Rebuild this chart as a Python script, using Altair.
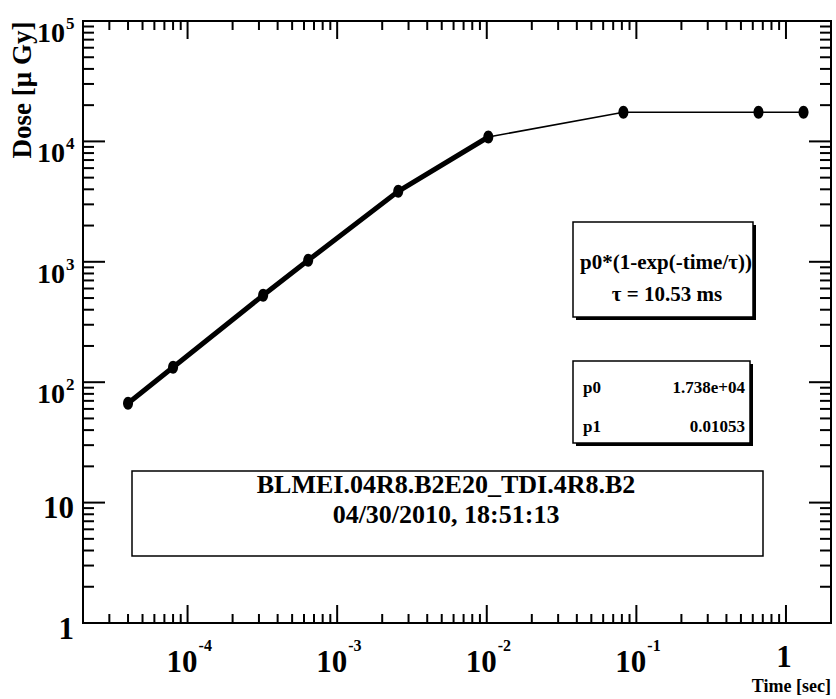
import altair as alt
import pandas as pd

FONT = "Liberation Serif"

# ---- data ----
time_s = [4e-5, 8e-5, 3.2e-4, 6.4e-4, 2.56e-3, 1.024e-2, 8.19e-2, 0.655, 1.31]
dose_uGy = [66.8, 133, 527, 1029, 3850, 10880, 17450, 17450, 17450]
fit_end = 1.1e-2  # fitted range (thick curve) ends at the 6th point

# ---- axes ----
X_DOMAIN = [2e-5, 2]
Y_DOMAIN = [1, 1e5]
y_decades = [1, 10, 100, 1000, 10000, 100000]
y_bases = ["1", "10", "10", "10", "10", "10"]
y_exps = ["", "", "2", "3", "4", "5"]
x_decades = [1e-4, 1e-3, 1e-2, 1e-1, 1]
x_bases = ["10", "10", "10", "10", "1"]
x_exps = ["-4", "-3", "-2", "-1", ""]
x_all_decades = [1e-5, 1e-4, 1e-3, 1e-2, 1e-1, 1]
minor_mult = [2, 3, 4, 5, 6, 7, 8, 9]

# ---- annotation texts ----
formula_txt = "p0*(1-exp(-time/τ))"
tau_txt = "τ = 10.53 ms"
par_names = ["p0", "p1"]
par_values = ["1.738e+04", "0.01053"]
title_lines = ["BLMEI.04R8.B2E20_TDI.4R8.B2", "04/30/2010, 18:51:13"]
x_title = "Time [sec]"
y_title = "Dose [μ Gy]"

W, H = 748, 602
xs = alt.Scale(type="log", domain=X_DOMAIN)
ys = alt.Scale(type="log", domain=Y_DOMAIN)
X = alt.X("t:Q", scale=xs, axis=None)
Y = alt.Y("dose:Q", scale=ys, axis=None)

df = pd.DataFrame({"t": time_s, "dose": dose_uGy})
one = pd.DataFrame({"k": [0]})

y_minor = [m * d for d in y_decades[:-1] for m in minor_mult]
x_minor = [m * d for d in x_all_decades for m in minor_mult
           if X_DOMAIN[0] * 1.001 < m * d < X_DOMAIN[1] * 0.999]

ymaj_df = pd.DataFrame({"dose": y_decades})
ymin_df = pd.DataFrame({"dose": y_minor})
xmaj_df = pd.DataFrame({"t": x_decades})
xmin_df = pd.DataFrame({"t": x_minor})

layers = []

def yticks(d, length):
    b = alt.Chart(d).mark_rule(color="black", strokeWidth=2)
    return [b.encode(y=Y, x=alt.value(0), x2=alt.value(length)),
            b.encode(y=Y, x=alt.value(W - length), x2=alt.value(W))]

def xticks(d, length):
    b = alt.Chart(d).mark_rule(color="black", strokeWidth=2)
    return [b.encode(x=X, y=alt.value(H - length), y2=alt.value(H)),
            b.encode(x=X, y=alt.value(0), y2=alt.value(length))]

layers += yticks(ymaj_df, 22) + yticks(ymin_df, 11)
layers += xticks(xmaj_df, 18) + xticks(xmin_df, 9)

# tick labels
ylab = pd.DataFrame({"dose": y_decades, "base": y_bases, "exp": y_exps})
txt = dict(font=FONT, fontWeight="bold", color="black", baseline="alphabetic")
layers.append(alt.Chart(ylab).transform_filter("datum.exp == ''")
              .mark_text(fontSize=31, align="right", dy=15.5, **txt)
              .encode(y=Y, x=alt.value(-9), text="base:N"))
layers.append(alt.Chart(ylab).transform_filter("datum.exp != ''")
              .mark_text(fontSize=28, align="right", dy=21, **txt)
              .encode(y=Y, x=alt.value(-18), text="base:N"))
layers.append(alt.Chart(ylab).transform_filter("datum.exp != ''")
              .mark_text(fontSize=17, align="left", dy=8, **txt)
              .encode(y=Y, x=alt.value(-17), text="exp:N"))

xlab = pd.DataFrame({"t": x_decades, "base": x_bases, "exp": x_exps})
layers.append(alt.Chart(xlab).transform_filter("datum.exp == ''")
              .mark_text(fontSize=31, align="center", dx=-2, **txt)
              .encode(x=X, y=alt.value(H + 44), text="base:N"))
layers.append(alt.Chart(xlab).transform_filter("datum.exp != ''")
              .mark_text(fontSize=31, align="right", dx=10, **txt)
              .encode(x=X, y=alt.value(H + 49), text="base:N"))
layers.append(alt.Chart(xlab).transform_filter("datum.exp != ''")
              .mark_text(fontSize=16, align="left", dx=11, **txt)
              .encode(x=X, y=alt.value(H + 27.5), text="exp:N"))

def label(s, x, y, size, align="center", angle=0, baseline="alphabetic"):
    kw = dict(txt)
    kw["baseline"] = baseline
    m = alt.Chart(one).mark_text(text=s, fontSize=size, align=align, angle=angle, **kw)
    return m.encode(x=alt.value(x), y=alt.value(y))

layers.append(label(x_title, W, H + 69, 18, align="right"))
layers.append(label(y_title, -60, 69, 27, angle=270, baseline="middle"))

# data: thin connecting line, thick fitted range, markers
ellipse = "M-0.77,0A0.77,1,0,1,0,0.77,0A0.77,1,0,1,0,-0.77,0Z"
layers.append(alt.Chart(df).mark_line(color="black", strokeWidth=1.6).encode(x=X, y=Y))
layers.append(alt.Chart(df).transform_filter(f"datum.t <= {fit_end}")
              .mark_line(color="black", strokeWidth=5, strokeCap="round").encode(x=X, y=Y))
layers.append(alt.Chart(df).mark_point(shape=ellipse, size=169, filled=True,
                                       color="black", opacity=1).encode(x=X, y=Y))

def box(x1, y1, x2, y2, shadow):
    out = []
    if shadow:
        out.append(alt.Chart(one).mark_rect(color="black").encode(
            x=alt.value(x1 + 3), x2=alt.value(x2 + 3), y=alt.value(y1 + 3), y2=alt.value(y2 + 3)))
    out.append(alt.Chart(one).mark_rect(fill="white", stroke="black", strokeWidth=1.5).encode(
        x=alt.value(x1), x2=alt.value(x2), y=alt.value(y1), y2=alt.value(y2)))
    return out

layers += box(490, 201, 670, 296, True)
layers.append(label(formula_txt, 583, 248, 21))
layers.append(label(tau_txt, 584, 280, 21))

layers += box(490, 340, 667, 422, True)
layers.append(label(par_names[0], 500, 372, 17, align="left"))
layers.append(label(par_values[0], 662, 372, 17, align="right"))
layers.append(label(par_names[1], 500, 411, 17, align="left"))
layers.append(label(par_values[1], 662, 411, 17, align="right"))

layers += box(49, 450, 680, 535, False)
layers.append(label(title_lines[0], 363, 472, 26))
layers.append(label(title_lines[1], 363, 502, 26))

chart = alt.layer(*layers).properties(
    width=W, height=H,
    autosize=alt.AutoSizeParams(type="none"),
    padding={"left": 83, "top": 21, "right": 5, "bottom": 76},
    background="white",
).configure_view(stroke="black", strokeWidth=2)

chart.save("out.html", embed_options={"renderer": "svg", "actions": False})
